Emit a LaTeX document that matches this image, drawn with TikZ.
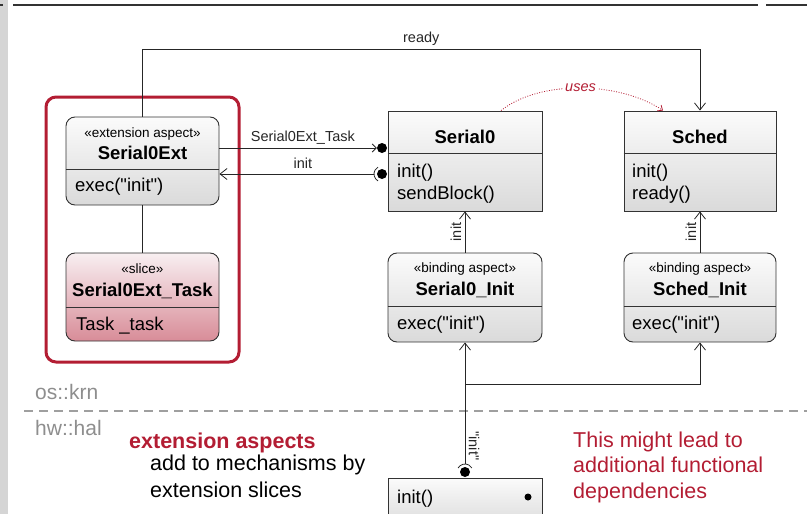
\documentclass[tikz,border=0pt]{standalone}
\usepackage{fontspec}
\setmainfont{Liberation Sans}[Ligatures=TeXOff]
\usetikzlibrary{arrows.meta}

\definecolor{aspectred}{HTML}{B31D33}
\definecolor{boxtop}{HTML}{FBFBFB}
\definecolor{boxbottom}{HTML}{DADADA}
\definecolor{slicetop}{HTML}{F8EFF1}
\definecolor{slicebottom}{HTML}{D88C98}
\definecolor{layergray}{HTML}{8E8E8E}
\definecolor{bargray}{HTML}{D5D5D5}

\tikzset{
  classbox/.style={draw=black!80, line width=0.9pt, top color=boxtop, bottom color=boxbottom,
    inner sep=0pt, minimum width=154pt, minimum height=100pt},
  aspectbox/.style={classbox, rounded corners=9pt, minimum height=89pt},
  slicebox/.style={aspectbox, top color=slicetop, bottom color=slicebottom},
  divider/.style={line width=0.9pt, black!80},
  stereo/.style={anchor=base, inner sep=0pt, font=\fontsize{13.5}{16}\selectfont},
  cname/.style={anchor=base, inner sep=0pt, font=\fontsize{18.5}{22}\selectfont\bfseries},
  member/.style={anchor=base west, inner sep=0pt, font=\fontsize{18.5}{22}\selectfont},
  lbl/.style={font=\fontsize{14.5}{17}\selectfont},
  note/.style={anchor=base west, inner sep=0pt, align=left, font=\fontsize{21.5}{25.5}\selectfont},
  ball/.style={circle, fill=black, inner sep=0pt, minimum size=10pt},
  wire/.style={line width=0.8pt, black!85},
  opentip/.style={-{Straight Barb[length=7pt,width=11pt]}},
}

\begin{document}
\begin{tikzpicture}[x=1pt,y=-1pt]
  \clip (0,0) rectangle (807,514);
  % slide edge
  \fill[bargray] (0,0) rectangle (8,514);
  \draw[line width=1.6pt, black!80] (0,5) -- (3,5) (13,5) -- (758,5) (766,5) -- (807,5);

  % layers
  \draw[layergray!85, line width=2.2pt, dash pattern=on 9pt off 6pt] (24,411) -- (807,411);
  \node[note, text=layergray, font=\fontsize{21}{25}\selectfont] (oskrn) at (35,399) {os::krn};
  \node[note, text=layergray, font=\fontsize{21}{25}\selectfont] (hwhal) at (35,435) {hw::hal};

  % extension aspect with its slice
  \node[draw=aspectred, line width=3pt, rounded corners=10pt, minimum width=193pt,
    minimum height=265pt] (extframe) at (142.5,229.5) {};
  \node[aspectbox, minimum width=153pt, minimum height=88pt] (ext) at (142.5,161) {};
  \draw[divider] (ext.west |- 0,169) -- (ext.east |- 0,169);
  \node[stereo] (extst) at (142.5,137) {«extension aspect»};
  \node[cname] (extname) at (142.5,159) {Serial0Ext};
  \node[member] (extexec) at (75,191) {exec("init")};

  \node[slicebox, minimum width=153pt, minimum height=88pt] (slice) at (142.5,297) {};
  \draw[divider] (slice.west |- 0,307) -- (slice.east |- 0,307);
  \node[stereo] (slicest) at (142.5,273) {«slice»};
  \node[cname] (slicename) at (142.5,296) {Serial0Ext\_Task};
  \node[member] (slicetask) at (76,330) {Task \_task};

  % classes
  \node[classbox] (ser) at (465,161) {};
  \draw[divider] (ser.west |- 0,153) -- (ser.east |- 0,153);
  \node[cname] (sername) at (465,143) {Serial0};
  \node[member] (serinitm) at (397,177) {init()};
  \node[member] (sersend) at (397,199) {sendBlock()};

  \node[classbox, minimum width=152pt] (sched) at (700,161) {};
  \draw[divider] (sched.west |- 0,153) -- (sched.east |- 0,153);
  \node[cname] (schedname) at (700,143) {Sched};
  \node[member] (schedinitm) at (632,177) {init()};
  \node[member] (schedready) at (632,199) {ready()};

  % binding aspects
  \node[aspectbox] (serinit) at (465,297.5) {};
  \draw[divider] (serinit.west |- 0,306) -- (serinit.east |- 0,306);
  \node[stereo] (serinitst) at (465,272) {«binding aspect»};
  \node[cname] (serinitname) at (465,295) {Serial0\_Init};
  \node[member] (serinitexec) at (397,329) {exec("init")};

  \node[aspectbox, minimum width=152pt] (schedinit) at (700,297.5) {};
  \draw[divider] (schedinit.west |- 0,306) -- (schedinit.east |- 0,306);
  \node[stereo] (schedinitst) at (700,272) {«binding aspect»};
  \node[cname] (schedinitname) at (700,295) {Sched\_Init};
  \node[member] (schedinitexec) at (632,329) {exec("init")};

  % hal box
  \node[classbox, minimum height=50pt] (hal) at (465,503) {};
  \node[member] (halinit) at (397,503) {init()};
  \fill (528,497) circle[radius=3.5];

  % connectors
  \draw[wire] (ext.south) -- (slice.north);
  \coordinate (readybend) at (142.5,49);
  \draw[wire, opentip] (ext.north) -- (readybend) -| node[pos=0.25, above, lbl] {ready} (sched.north);

  \node[ball] (taskball) at (382,148) {};
  \draw[wire, -{Straight Barb[length=4pt,width=8pt]}] (ext.east |- taskball) -- node[pos=0.53, above, lbl] {Serial0Ext\_Task} (taskball.west);

  \node[ball] (initball) at (382,174) {};
  \draw[wire] ([shift={(120:8)}]initball.center) arc[start angle=120, end angle=240, radius=8];
  \coordinate (initsock) at (374,174);
  \draw[wire, opentip] (initsock) -- node[pos=0.46, above=1.5pt, lbl] {init} (ext.east |- initball);

  \draw[aspectred, line width=0.8pt, dash pattern=on 0.9pt off 1.6pt, -{Straight Barb[length=4pt,width=7pt]}]
    ([xshift=36pt]ser.north) .. controls +(39,-31) and +(-43,-29) .. ([xshift=-37pt]sched.north)
    node[pos=0.5, fill=white, inner sep=2pt, text=aspectred, font=\fontsize{14.5}{17}\selectfont\itshape] {uses};

  \draw[wire, opentip] (serinit.north) -- node[midway, anchor=south, rotate=90, lbl] {init} (ser.south);
  \draw[wire, opentip] (schedinit.north) -- node[midway, anchor=south, rotate=90, lbl] {init} (sched.south);

  \node[ball] (halball) at (465,472) {};
  \draw[wire] ([shift={(210:8)}]halball.center) arc[start angle=210, end angle=330, radius=8];
  \coordinate (halsock) at (465,464);
  \draw[wire, opentip] (halsock) -- node[pos=0.15, anchor=south, rotate=-90, lbl] {"init"} (serinit.south);
  \coordinate (branch) at (465,384);
  \draw[wire, opentip] (branch) -| (schedinit.south);

  % notes
  \node[note, text=aspectred, font=\fontsize{21.5}{25.5}\selectfont\bfseries] (extnote) at (129,448) {extension aspects};
  \node[note, font=\fontsize{21.5}{26.5}\selectfont] (extdesc) at (150,497) {add to mechanisms by\\extension slices};
  \node[note, text=aspectred] (remark) at (573,498) {This might lead to\\additional functional\\dependencies};
\end{tikzpicture}
\end{document}
